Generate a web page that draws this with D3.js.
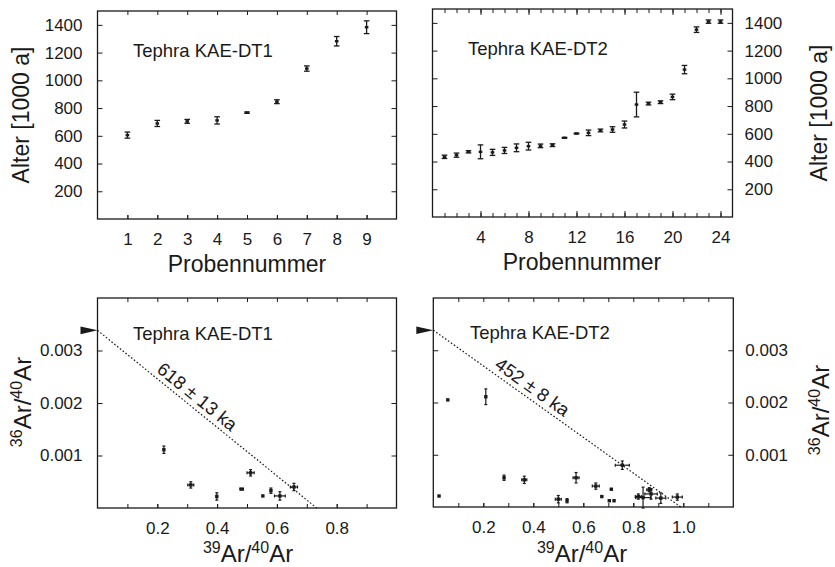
<!DOCTYPE html>
<html>
<head>
<meta charset="utf-8">
<script src="https://cdn.jsdelivr.net/npm/d3@7"></script>
<style>
  html, body { margin: 0; padding: 0; background: #fff; }
  svg { display: block; }
  text { font-family: 'Liberation Sans', Arial, Helvetica, sans-serif; fill: #1a1a1a; }
</style>
</head>
<body>
<svg id="chart" width="835" height="567"></svg>
<script>
// ---------------- DATA ----------------
// Top-left: Tephra KAE-DT1 ages per sample
const dt1Sample = [1, 2, 3, 4, 5, 6, 7, 8, 9];
const dt1Age    = [605, 689, 704, 711, 767, 846, 1085, 1282, 1383];
const dt1AgeErr = [22, 22, 14, 26, 5, 14, 19, 34, 46];

// Top-right: Tephra KAE-DT2 ages per sample
const dt2Sample = [1, 2, 3, 4, 5, 6, 7, 8, 9, 10, 11, 12, 13, 14, 15, 16, 17, 18, 19, 20, 21, 22, 23, 24];
const dt2Age    = [434, 446, 470, 470, 466, 480, 499, 511, 513, 518, 571, 602, 607, 624, 631, 667, 811, 818, 828, 866, 1063, 1351, 1409, 1409];
const dt2AgeErr = [12, 15, 8, 50, 22, 22, 28, 28, 13, 10, 3, 3, 20, 10, 20, 25, 89, 10, 10, 20, 30, 20, 12, 12];

// Bottom-left: isochron KAE-DT1
const dt1Ar39    = [0.222, 0.312, 0.399, 0.482, 0.512, 0.553, 0.580, 0.610, 0.657];
const dt1Ar39Err = [0.003, 0.010, 0.003, 0.006, 0.012, 0.004, 0.004, 0.018, 0.012];
const dt1Ar36    = [0.00111, 0.00044, 0.00022, 0.00036, 0.00067, 0.00023, 0.00033, 0.00023, 0.00040];
const dt1Ar36Err = [0.00007, 0.00006, 0.00007, 0.00003, 0.00006, 0.00002, 0.00005, 0.00008, 0.00007];

// Bottom-right: isochron KAE-DT2
const dt2Ar39    = [0.023, 0.058, 0.210, 0.283, 0.364, 0.500, 0.535, 0.571, 0.650, 0.674, 0.704, 0.712, 0.723, 0.756, 0.820, 0.839, 0.864, 0.871, 0.910, 0.976];
const dt2Ar39Err = [0.003, 0.003, 0.004, 0.004, 0.010, 0.012, 0.004, 0.012, 0.014, 0.004, 0.004, 0.003, 0.004, 0.028, 0.012, 0.030, 0.010, 0.025, 0.020, 0.020];
const dt2Ar36    = [0.00021, 0.00205, 0.00211, 0.00056, 0.00052, 0.00015, 0.00012, 0.00056, 0.00040, 0.00020, 0.00012, 0.00034, 0.00012, 0.00080, 0.00020, 0.00018, 0.00033, 0.00025, 0.00017, 0.00019];
const dt2Ar36Err = [0.00002, 0.00002, 0.00015, 0.00005, 0.00007, 0.00007, 0.00004, 0.00010, 0.00006, 0.00003, 0.00003, 0.00002, 0.00003, 0.00008, 0.00005, 0.00020, 0.00004, 0.00010, 0.00010, 0.00006];

// Isochron lines (atmospheric 36Ar/40Ar = 1/295.5)
const atmRatio = 1 / 295.5;
const dt1Intercept = 0.733;
const dt2Intercept = 0.99;
const isochronLabels = ["618 \u00B1 13 ka", "452 \u00B1 8 ka"];
const panelTitles = ["Tephra KAE-DT1", "Tephra KAE-DT2"];

// Tick values
const ageTicks = [200, 400, 600, 800, 1000, 1200, 1400];
const dt1SampleTicks = [1, 2, 3, 4, 5, 6, 7, 8, 9];
const dt2MinorTicks = d3.range(1, 25);
const dt2LabelTicks = [4, 8, 12, 16, 20, 24];
const arYTicks = [0.001, 0.002, 0.003];
const dt1XMinor = [0.1, 0.2, 0.3, 0.4, 0.5, 0.6, 0.7, 0.8, 0.9];
const dt1XLabels = [0.2, 0.4, 0.6, 0.8];
const dt2XMinor = [0.1, 0.2, 0.3, 0.4, 0.5, 0.6, 0.7, 0.8, 0.9, 1.0, 1.1];
const dt2XLabels = [0.2, 0.4, 0.6, 0.8, 1.0];

// ---------------- DRAW ----------------
const svg = d3.select("#chart");
const INK = "#1a1a1a";
const TICKFS = 17, TITLEFS = 23, PANELFS = 18.5;

function frame(x, y) {
  const [x0, x1] = x.range(), [y1, y0] = y.range();
  svg.append("rect").attr("x", x0).attr("y", y0).attr("width", x1 - x0).attr("height", y1 - y0)
    .attr("fill", "none").attr("stroke", INK).attr("stroke-width", 1.3);
}

function axis(gen, scale, tx, ty, values, size, fmt, pad) {
  const a = gen(scale).tickValues(values).tickSize(size).tickSizeOuter(0)
    .tickFormat(fmt ? fmt : "").tickPadding(pad || 0);
  const g = svg.append("g").attr("transform", `translate(${tx},${ty})`).call(a);
  g.select(".domain").remove();
  g.selectAll(".tick line").attr("stroke", INK).attr("stroke-width", 1);
  g.selectAll("text").attr("font-size", TICKFS).attr("fill", INK)
    .style("font-family", "'Liberation Sans', Arial, sans-serif");
  return g;
}

function fullAxes(x, y, xMinor, xLabels, xFmt, yTicks, yFmt, ySide, xMajorLen) {
  const [x0, x1] = x.range(), [yb, yt] = y.range();
  axis(d3.axisBottom, x, 0, yb, xMinor, -4, null);
  axis(d3.axisBottom, x, 0, yb, xLabels, -(xMajorLen || 4), xFmt, 14);
  axis(d3.axisTop, x, 0, yt, xMinor, -4, null);
  if (xMajorLen) axis(d3.axisTop, x, 0, yt, xLabels, -xMajorLen, null);
  if (ySide === "left") {
    axis(d3.axisLeft, y, x0, 0, yTicks, -5, yFmt, 15);
    axis(d3.axisRight, y, x1, 0, yTicks, -5, null);
  } else {
    axis(d3.axisLeft, y, x0, 0, yTicks, -5, null);
    axis(d3.axisRight, y, x1, 0, yTicks, -5, yFmt, 12);
  }
}

function text(x, y, str, fs, anchor, rot) {
  const t = svg.append("text").attr("font-size", fs).attr("text-anchor", anchor || "start");
  if (rot) t.attr("transform", `translate(${x},${y}) rotate(${rot})`);
  else t.attr("x", x).attr("y", y);
  t.text(str);
  return t;
}

function arLabel(x, y, sup1, sup2, rot) {
  const t = svg.append("text").attr("text-anchor", "middle")
    .attr("transform", `translate(${x},${y})` + (rot ? ` rotate(${rot})` : ""));
  t.append("tspan").attr("font-size", 16).attr("dy", -9).text(sup1);
  t.append("tspan").attr("font-size", 24).attr("dy", 9).text("Ar/");
  t.append("tspan").attr("font-size", 16).attr("dy", -9).text(sup2);
  t.append("tspan").attr("font-size", 24).attr("dy", 9).text("Ar");
}

function ageBars(x, y, s, a, e) {
  const g = svg.append("g").attr("stroke", INK).attr("stroke-width", 1.3);
  s.forEach((si, i) => {
    const cx = x(si), yl = y(a[i] - e[i]), yh = y(a[i] + e[i]), cy = y(a[i]);
    g.append("line").attr("x1", cx).attr("x2", cx).attr("y1", yl).attr("y2", yh);
    g.append("line").attr("x1", cx - 2.8).attr("x2", cx + 2.8).attr("y1", yl).attr("y2", yl);
    g.append("line").attr("x1", cx - 2.8).attr("x2", cx + 2.8).attr("y1", yh).attr("y2", yh);
    g.append("rect").attr("x", cx - 1.8).attr("y", cy - 1.2).attr("width", 3.6).attr("height", 2.4)
      .attr("fill", INK).attr("stroke", "none");
  });
}

function isoPoints(x, y, xv, xe, yv, ye) {
  const g = svg.append("g").attr("stroke", INK).attr("stroke-width", 1.2);
  xv.forEach((v, i) => {
    const cx = x(v), cy = y(yv[i]);
    const xl = x(v - xe[i]), xh = x(v + xe[i]);
    const yl = y(yv[i] - ye[i]), yh = y(yv[i] + ye[i]);
    if (xh - xl > 3.5) {
      g.append("line").attr("x1", xl).attr("x2", xh).attr("y1", cy).attr("y2", cy);
      g.append("line").attr("x1", xl).attr("x2", xl).attr("y1", cy - 1.5).attr("y2", cy + 1.5);
      g.append("line").attr("x1", xh).attr("x2", xh).attr("y1", cy - 1.5).attr("y2", cy + 1.5);
    }
    if (yl - yh > 3.5) {
      g.append("line").attr("x1", cx).attr("x2", cx).attr("y1", yl).attr("y2", yh);
      g.append("line").attr("x1", cx - 1.5).attr("x2", cx + 1.5).attr("y1", yl).attr("y2", yl);
      g.append("line").attr("x1", cx - 1.5).attr("x2", cx + 1.5).attr("y1", yh).attr("y2", yh);
    }
    g.append("rect").attr("x", cx - 1.7).attr("y", cy - 1.7).attr("width", 3.4).attr("height", 3.4)
      .attr("fill", INK).attr("stroke", "none");
  });
}

function isochron(x, y, intercept, label, labelAt) {
  const x0 = x(0), y0 = y(atmRatio), x1 = x(intercept), y1 = y(0);
  svg.append("line").attr("x1", x0).attr("y1", y0).attr("x2", x1).attr("y2", y1)
    .attr("stroke", INK).attr("stroke-width", 1.2).attr("stroke-dasharray", "1.6,2");
  svg.append("path")
    .attr("d", `M${x0},${y0} L${x0 - 17},${y0 - 3.8} L${x0 - 17},${y0 + 3.8} Z`)
    .attr("fill", INK);
  const ang = Math.atan2(y1 - y0, x1 - x0) * 180 / Math.PI;
  const lx = x(labelAt), ly = y(atmRatio * (1 - labelAt / intercept));
  svg.append("text").attr("font-size", PANELFS).attr("text-anchor", "middle")
    .attr("transform", `translate(${lx},${ly}) rotate(${ang})`).attr("y", -5).text(label);
}

// ----- Panel 1: top-left -----
const x1s = d3.scaleLinear().domain([0, 10]).range([97.5, 396.5]);
const y1s = d3.scaleLinear().domain([0, 1500]).range([219, 11]);
frame(x1s, y1s);
fullAxes(x1s, y1s, dt1SampleTicks, dt1SampleTicks, d3.format("d"), ageTicks, d3.format("d"), "left");
ageBars(x1s, y1s, dt1Sample, dt1Age, dt1AgeErr);
text(133, 57, panelTitles[0], PANELFS);
text(247, 272, "Probennummer", TITLEFS, "middle");
text(29, 115, "Alter [1000 a]", TITLEFS, "middle", -90);

// ----- Panel 2: top-right -----
const x2s = d3.scaleLinear().domain([0, 25]).range([432.5, 732.5]);
const y2s = d3.scaleLinear().domain([0, 1500]).range([217, 9]);
frame(x2s, y2s);
fullAxes(x2s, y2s, dt2MinorTicks, dt2LabelTicks, d3.format("d"), ageTicks, d3.format("d"), "right", 6);
ageBars(x2s, y2s, dt2Sample, dt2Age, dt2AgeErr);
text(468, 55, panelTitles[1], PANELFS);
text(582, 270, "Probennummer", TITLEFS, "middle");
text(827, 113, "Alter [1000 a]", TITLEFS, "middle", -90);

// ----- Panel 3: bottom-left -----
const x3s = d3.scaleLinear().domain([0, 1.0]).range([97.5, 396.5]);
const y3s = d3.scaleLinear().domain([0, 0.004]).range([508, 298]);
frame(x3s, y3s);
fullAxes(x3s, y3s, dt1XMinor, dt1XLabels, d3.format(".1f"), arYTicks, d3.format(".3f"), "left");
isochron(x3s, y3s, dt1Intercept, isochronLabels[0], 0.31);
isoPoints(x3s, y3s, dt1Ar39, dt1Ar39Err, dt1Ar36, dt1Ar36Err);
text(133, 340, panelTitles[0], PANELFS);
arLabel(248, 562, "39", "40");
arLabel(31, 402, "36", "40", -90);

// ----- Panel 4: bottom-right -----
const x4s = d3.scaleLinear().domain([0, 1.2]).range([433.3, 733.3]);
const y4s = d3.scaleLinear().domain([0, 0.004]).range([507, 298]);
frame(x4s, y4s);
fullAxes(x4s, y4s, dt2XMinor, dt2XLabels, d3.format(".1f"), arYTicks, d3.format(".3f"), "right");
isochron(x4s, y4s, dt2Intercept, isochronLabels[1], 0.37);
isoPoints(x4s, y4s, dt2Ar39, dt2Ar39Err, dt2Ar36, dt2Ar36Err);
text(470, 339, panelTitles[1], PANELFS);
arLabel(582, 562, "39", "40");
arLabel(829, 410, "36", "40", -90);
</script>
</body>
</html>
